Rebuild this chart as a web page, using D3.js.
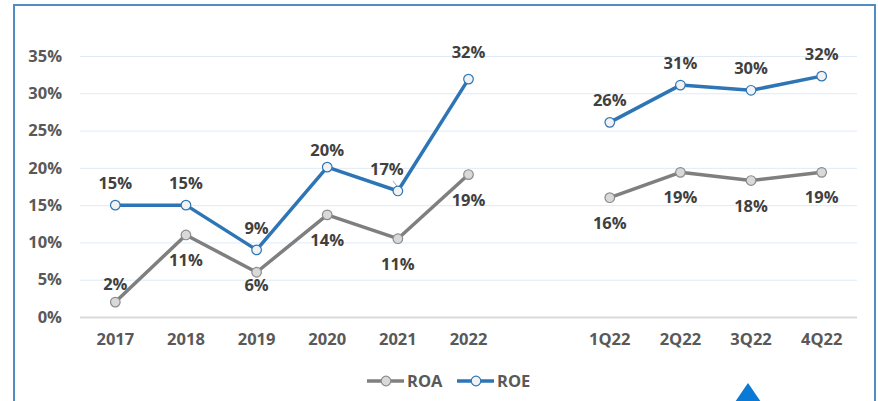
<!DOCTYPE html>
<html>
<head>
<meta charset="utf-8">
<script src="https://cdn.jsdelivr.net/npm/d3@7"></script>
<style>
  body { margin: 0; background: #fff; }
  svg text { font-family: "Open Sans", "Noto Sans", sans-serif; font-weight: bold; }
</style>
</head>
<body>
<div id="chart"></div>
<script>
    var w = 878;
    var h = 401;

    // data
    var categories = ['2017', '2018', '2019', '2020', '2021', '2022', '', '1Q22', '2Q22', '3Q22', '4Q22'];
    var roa = [0.02, 0.11, 0.06, 0.137, 0.105, 0.191, null, 0.16, 0.194, 0.183, 0.194];
    var roe = [0.15, 0.15, 0.09, 0.201, 0.169, 0.319, null, 0.261, 0.311, 0.304, 0.323];
    var roaLabels = ['2%', '11%', '6%', '14%', '11%', '19%', '', '16%', '19%', '18%', '19%'];
    var roeLabels = ['15%', '15%', '9%', '20%', '17%', '32%', '', '26%', '31%', '30%', '32%'];
    var yTicks = [0, 0.05, 0.10, 0.15, 0.20, 0.25, 0.30, 0.35];
    var seriesNames = ['ROA', 'ROE'];

    var fs = '16.5px';
    var margin = { top: 56, right: 21, bottom: 84, left: 80 };
    var innerW = w - margin.left - margin.right,
        innerH = h - margin.top - margin.bottom;

    var x = d3.scaleBand()
              .domain(categories)
              .range([0, innerW]);
    var y = d3.scaleLinear()
              .domain([0, 0.35])
              .range([innerH, 0]);

    var svg = d3.select('#chart').append('svg')
        .attr('width', w)
        .attr('height', h);

    // frame
    svg.append('path')
        .attr('d', 'M14,' + (h + 5) + 'V5H875V' + (h + 5))
        .attr('fill', 'none')
        .attr('stroke', '#4f8dc2')
        .attr('stroke-width', 2);

    var g = svg.append('g')
        .attr('transform', 'translate(' + [margin.left, margin.top] + ')');

    // y axis + grid
    var yAxis = d3.axisLeft(y)
                  .tickValues(yTicks)
                  .tickFormat(d3.format('.0%'))
                  .tickSize(-innerW)
                  .tickPadding(18);
    var yg = g.append('g').attr('class', 'y axis').call(yAxis);
    yg.select('.domain').remove();
    yg.selectAll('line')
        .attr('stroke', function(d){ return d === 0 ? '#d9d9d9' : '#deebf7'; })
        .attr('stroke-width', function(d){ return d === 0 ? 2 : 1; });
    yg.selectAll('text')
        .attr('fill', '#595959')
        .style('font-size', fs);

    // x axis
    var xAxis = d3.axisBottom(x)
                  .tickSize(0)
                  .tickPadding(16);
    var xg = g.append('g')
        .attr('class', 'x axis')
        .attr('transform', 'translate(' + [0, innerH] + ')')
        .call(xAxis);
    xg.select('.domain').remove();
    xg.selectAll('text')
        .attr('fill', '#595959')
        .style('font-size', fs);

    var cx = function(i){ return x(categories[i]) + x.bandwidth() / 2; };

    var line = d3.line()
        .defined(function(d){ return d != null; })
        .x(function(d, i){ return cx(i); })
        .y(function(d){ return y(d); });

    var styles = {
        ROA: { stroke: '#7f7f7f', fill: '#d9d9d9' },
        ROE: { stroke: '#2e75b6', fill: '#f2f2f2' }
    };

    [[roa, 'ROA'], [roe, 'ROE']].forEach(function(s){
        var vals = s[0], st = styles[s[1]];
        g.append('path')
            .datum(vals)
            .attr('fill', 'none')
            .attr('stroke', st.stroke)
            .attr('stroke-width', 3.5)
            .attr('stroke-linejoin', 'round')
            .attr('d', line);
        g.selectAll('.pt' + s[1])
            .data(vals.map(function(v, i){ return { v: v, i: i }; })
                      .filter(function(d){ return d.v != null; }))
            .enter().append('circle')
            .attr('cx', function(d){ return cx(d.i); })
            .attr('cy', function(d){ return y(d.v); })
            .attr('r', 4.8)
            .attr('fill', st.fill)
            .attr('stroke', s[1] === 'ROE' ? st.stroke : '#8c8c8c')
            .attr('stroke-width', 1.2);
    });

    // data labels (baseline offsets)
    var roeNudge = { 3: [0, -11], 4: [-11, -16], 5: [0, -21] };
    var roaNudge = { 0: [0, -12], 2: [0, 19] };

    g.selectAll('.roeLbl')
        .data(roe.map(function(v, i){ return { v: v, i: i }; })
                 .filter(function(d){ return d.v != null; }))
        .enter().append('text')
        .attr('x', function(d){ return cx(d.i) + (roeNudge[d.i] ? roeNudge[d.i][0] : 0); })
        .attr('y', function(d){ return y(d.v) + (roeNudge[d.i] ? roeNudge[d.i][1] : -16); })
        .attr('text-anchor', 'middle')
        .attr('fill', '#404040')
        .style('font-size', fs)
        .text(function(d){ return roeLabels[d.i]; });

    g.selectAll('.roaLbl')
        .data(roa.map(function(v, i){ return { v: v, i: i }; })
                 .filter(function(d){ return d.v != null; }))
        .enter().append('text')
        .attr('x', function(d){ return cx(d.i) + (roaNudge[d.i] ? roaNudge[d.i][0] : 0); })
        .attr('y', function(d){ return y(d.v) + (roaNudge[d.i] ? roaNudge[d.i][1] : 31); })
        .attr('text-anchor', 'middle')
        .attr('fill', '#404040')
        .style('font-size', fs)
        .text(function(d){ return roaLabels[d.i]; });

    // leader line for 17%
    g.append('line')
        .attr('x1', cx(4) - 5).attr('y1', y(roe[4]) - 10)
        .attr('x2', cx(4) - 1).attr('y2', y(roe[4]) - 5)
        .attr('stroke', '#a6a6a6').attr('stroke-width', 1);

    // legend
    var legend = svg.append('g').attr('transform', 'translate(367,381)');
    var lx = [0, 90];
    seriesNames.forEach(function(name, k){
        var st = styles[name];
        var lg = legend.append('g').attr('transform', 'translate(' + lx[k] + ',0)');
        lg.append('line')
            .attr('x1', 0).attr('x2', 37).attr('y1', 0).attr('y2', 0)
            .attr('stroke', st.stroke).attr('stroke-width', 3.5);
        lg.append('circle')
            .attr('cx', 19).attr('cy', 0).attr('r', 4.8)
            .attr('fill', st.fill)
            .attr('stroke', name === 'ROE' ? st.stroke : '#8c8c8c')
            .attr('stroke-width', 1.2);
        lg.append('text')
            .attr('x', 40).attr('y', 6)
            .attr('fill', '#595959')
            .style('font-size', fs)
            .text(name);
    });

    // blue marker triangle at bottom
    svg.append('path')
        .attr('d', 'M748,383L735,402L761,402Z')
        .attr('fill', '#0a7ad4');
</script>
</body>
</html>
